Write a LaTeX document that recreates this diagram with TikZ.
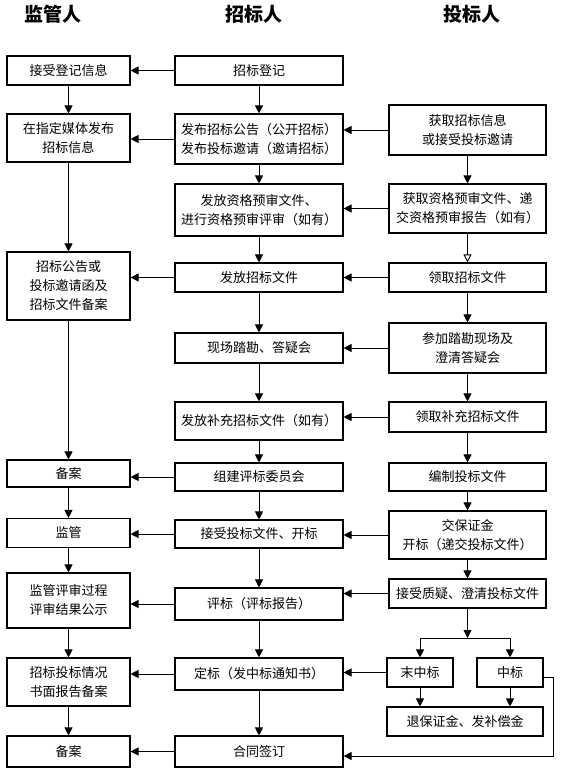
\documentclass[tikz,border=0pt]{standalone}
\usepackage{fontspec}
\setmainfont{Noto Sans CJK SC}
\usepackage{tikz}
\usetikzlibrary{arrows.meta,positioning}
\tikzset{
  box/.style={rectangle,draw=black,line width=1.1pt,align=center,inner sep=0pt,font=\fontsize{13}{19}\selectfont},
  lbox/.style={box,minimum width=123pt},
  mbox/.style={box,minimum width=168pt},
  rbox/.style={box,minimum width=157pt},
  head/.style={font=\fontsize{19}{20}\selectfont\bfseries},
  arr/.style={-{Triangle[length=8pt,width=8pt]},line width=0.9pt},
  arro/.style={-{Triangle[open,length=8pt,width=8pt]},line width=0.9pt},
}

\begin{document}
\begin{tikzpicture}[x=1pt,y=-1pt]
\useasboundingbox (0,0) rectangle (560,773);
% \draw[help lines,step=20] (0,0) grid (560,773);
\node (h1) [head] at (53,14) {监管人};
\node (h2) [head] at (254,14) {招标人};
\node (h3) [head] at (472,14) {投标人};
%
\node (jg1) [lbox,minimum height=29pt] at (68.5,70.5) {接受登记信息};
\node (jg2) [lbox,minimum height=48pt] at (68.5,138) {在指定媒体发布\\招标信息};
\node (jg3) [lbox,minimum height=68pt] at (68.5,286) {招标公告或\\投标邀请函及\\招标文件备案};
\node (jg4) [lbox,minimum height=27pt] at (68.5,473.5) {备案};
\node (jg5) [lbox,minimum height=29pt] at (68.5,533) {监管};
\node (jg6) [lbox,minimum height=55pt] at (68.5,600.5) {监管评审过程\\评审结果公示};
\node (jg7) [lbox,minimum height=48pt] at (68.5,682) {招标投标情况\\书面报告备案};
\node (jg8) [lbox,minimum height=31pt] at (68.5,751.5) {备案};
%
\node (zb1) [mbox,minimum height=29pt] at (259,70.5) {招标登记};
\node (zb2) [mbox,minimum height=50pt] at (259,139) {发布招标公告（公开招标）\\发布投标邀请（邀请招标）};
\node (zb3) [mbox,minimum height=52pt] at (259,210) {发放资格预审文件、\\进行资格预审评审（如有）};
\node (zb4) [mbox,minimum height=29pt] at (259,277.5) {发放招标文件};
\node (zb5) [mbox,minimum height=30pt] at (259,348) {现场踏勘、答疑会};
\node (zb6) [mbox,minimum height=38pt] at (259,421) {发放补充招标文件（如有）};
\node (zb7) [mbox,minimum height=28pt] at (259,477) {组建评标委员会};
\node (zb8) [mbox,minimum height=28pt] at (259,534) {接受投标文件、开标};
\node (zb9) [mbox,minimum height=32pt] at (259,604) {评标（评标报告）};
\node (zb10) [mbox,minimum height=32pt] at (259,674) {定标（发中标通知书）};
\node (zb11) [mbox,minimum height=31pt] at (259,751.5) {合同签订};
%
\node (tb1) [rbox,minimum height=50pt] at (467.5,130) {获取招标信息\\或接受投标邀请};
\node (tb2) [rbox,minimum height=49pt] at (467.5,208.5) {获取资格预审文件、递\\交资格预审报告（如有）};
\node (tb3) [rbox,minimum height=29pt] at (467.5,277.5) {领取招标文件};
\node (tb4) [rbox,minimum height=50pt] at (467.5,348) {参加踏勘现场及\\澄清答疑会};
\node (tb5) [rbox,minimum height=30pt] at (467.5,417) {领取补充招标文件};
\node (tb6) [rbox,minimum height=28pt] at (467.5,477) {编制投标文件};
\node (tb7) [rbox,minimum height=48pt] at (467.5,535) {交保证金\\开标（递交投标文件）};
\node (tb8) [rbox,minimum height=29pt] at (467.5,593.5) {接受质疑、澄清投标文件};
\node (tb9) [box,minimum width=66pt,minimum height=29pt] at (420,672.5) {末中标};
\node (tb10) [box,minimum width=66pt,minimum height=29pt] at (510,672.5) {中标};
\node (tb11) [box,minimum width=156pt,minimum height=29pt] at (465,721.5) {退保证金、发补偿金};
\coordinate (fork) at (467.5,638);
%
% left column
\path[arr] (jg1) edge (jg2);
\path[arr] (jg2) edge (jg3);
\path[arr] (jg3) edge (jg4);
\path[arr] (jg4) edge (jg5);
\path[arr] (jg5) edge (jg6);
\path[arr] (jg6) edge (jg7);
\path[arr] (jg7) edge (jg8);
%
% middle column
\path[arr] (zb1) edge (zb2);
\path[arr] (zb2) edge (zb3);
\path[arr] (zb3) edge (zb4);
\path[arr] (zb4) edge (zb5);
\path[arr] (zb5) edge (zb6);
\path[arr] (zb6) edge (zb7);
\path[arr] (zb7) edge (zb8);
\path[arr] (zb8) edge (zb9);
\path[arr] (zb9) edge (zb10);
\path[arr] (zb10) edge (zb11);
%
% right column
\path[arr] (tb1) edge (tb2);
\path[arro] (tb2) edge (tb3);
\path[arr] (tb3) edge (tb4);
\path[arr] (tb4) edge (tb5);
\path[arr] (tb5) edge (tb6);
\path[arr] (tb6) edge (tb7);
\path[arr] (tb7) edge (tb8);
\draw[arr] (tb8) -- (fork);
\draw[arr] (fork) -| (tb9.north);
\draw[arr] (fork) -| (tb10.north);
\path[arr] (tb9) edge (tb9 |- tb11.north);
\path[arr] (tb10) edge (tb10 |- tb11.north);
\draw[arr] ([yshift=-5pt]tb10.east) -- ++(10,0) |- ([yshift=-4.5pt]zb11.east);
%
% middle to left
\path[arr] (zb1.west) edge (zb1.west -| jg1.east);
\path[arr] (zb2.west) edge (zb2.west -| jg2.east);
\path[arr] (zb4.west) edge (zb4.west -| jg3.east);
\path[arr] (zb7.west) edge (zb7.west -| jg4.east);
\path[arr] (zb8.west) edge (zb8.west -| jg5.east);
\path[arr] (zb9.west) edge (zb9.west -| jg6.east);
\path[arr] (zb10.west) edge (zb10.west -| jg7.east);
\path[arr] (zb11.west) edge (zb11.west -| jg8.east);
%
% right to middle
\path[arr] (tb1.west) edge (tb1.west -| zb2.east);
\path[arr] (tb2.west) edge (tb2.west -| zb3.east);
\path[arr] (tb3.west) edge (tb3.west -| zb4.east);
\path[arr] (tb4.west) edge (tb4.west -| zb5.east);
\path[arr] (tb5.west) edge (tb5.west -| zb6.east);
\path[arr] (tb7.west) edge (tb7.west -| zb8.east);
\path[arr] (tb8.west) edge (tb8.west -| zb9.east);
\path[arr] (tb9.west) edge (tb9.west -| zb10.east);
\end{tikzpicture}
\end{document}
